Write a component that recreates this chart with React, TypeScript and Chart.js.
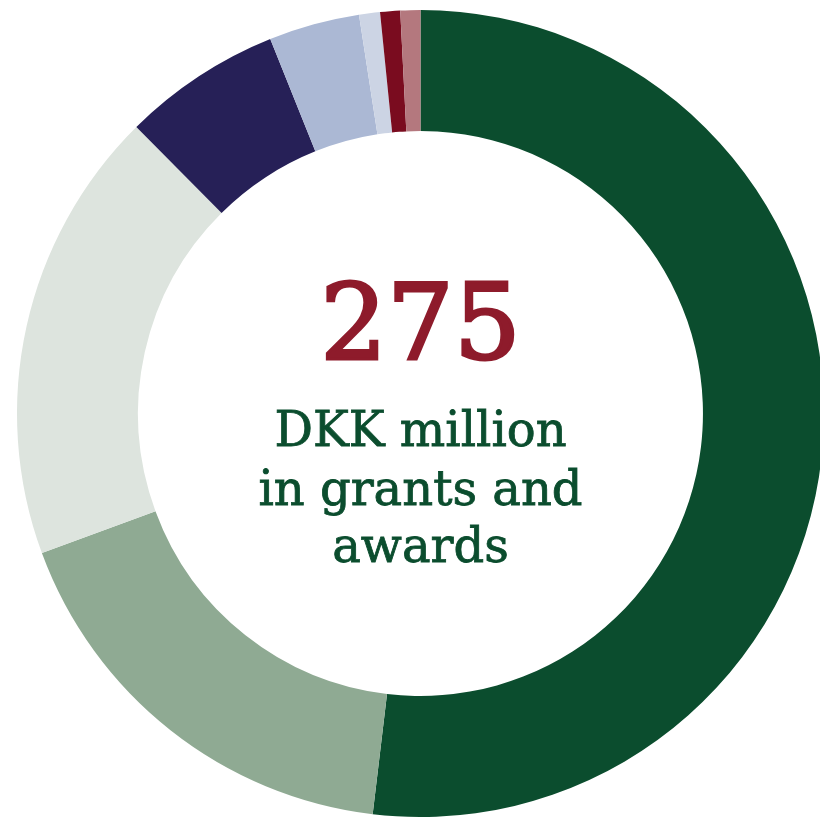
import React, { useEffect, useRef } from "react";
import { Chart, registerables } from "chart.js";

Chart.register(...registerables);

// Grants and awards, DKK million (total 275)
const categories = [
  "Category 1",
  "Category 2",
  "Category 3",
  "Category 4",
  "Category 5",
  "Category 6",
  "Category 7",
  "Category 8",
];
const values = [142.7, 48.1, 50.0, 17.5, 10.0, 2.3, 2.2, 2.2];
const colors = [
  "#0b4d2e",
  "#8faa93",
  "#dde4de",
  "#262057",
  "#abb8d4",
  "#ccd4e4",
  "#7a0c1f",
  "#b4787e",
];
const totalLabel = "275";
const captionLines = ["DKK million", "in grants and", "awards"];

const SERIF = "'DejaVu Serif', 'Liberation Serif', serif";

export default function App() {
  const canvasRef = useRef<HTMLCanvasElement | null>(null);

  useEffect(() => {
    document.body.style.margin = "0";
    const canvas = canvasRef.current;
    if (!canvas) return;
    const chart = new Chart(canvas, {
      type: "doughnut",
      data: {
        labels: categories,
        datasets: [
          {
            data: values,
            backgroundColor: colors,
            borderWidth: 0,
            hoverOffset: 0,
          },
        ],
      },
      options: {
        responsive: false,
        animation: false,
        cutout: "70%",
        rotation: 0,
        layout: { padding: 0 },
        plugins: {
          legend: { display: false },
          tooltip: { enabled: false },
        },
      },
    });
    return () => chart.destroy();
  }, []);

  const lineStyle = (
    top: number,
    size: number,
    color: string,
    stroke: number
  ): React.CSSProperties => ({
    position: "absolute",
    left: 0,
    width: 841,
    top,
    textAlign: "center",
    fontFamily: SERIF,
    fontSize: size,
    lineHeight: `${size}px`,
    color,
    whiteSpace: "nowrap",
    WebkitTextStroke: `${stroke}px ${color}`,
  });

  return (
    <div
      style={{
        position: "relative",
        width: 820,
        height: 819,
        overflow: "hidden",
        background: "#ffffff",
      }}
    >
      <div style={{ position: "absolute", left: 0, top: 10, width: 841, height: 807 }}>
        <canvas ref={canvasRef} width={841} height={807} />
      </div>
      <div style={lineStyle(271, 105, "#8e1b2b", 3)}>{totalLabel}</div>
      <div style={lineStyle(405, 48, "#0b4d2e", 0.8)}>{captionLines[0]}</div>
      <div style={lineStyle(464, 48, "#0b4d2e", 0.8)}>{captionLines[1]}</div>
      <div style={lineStyle(521, 48, "#0b4d2e", 0.8)}>{captionLines[2]}</div>
    </div>
  );
}
